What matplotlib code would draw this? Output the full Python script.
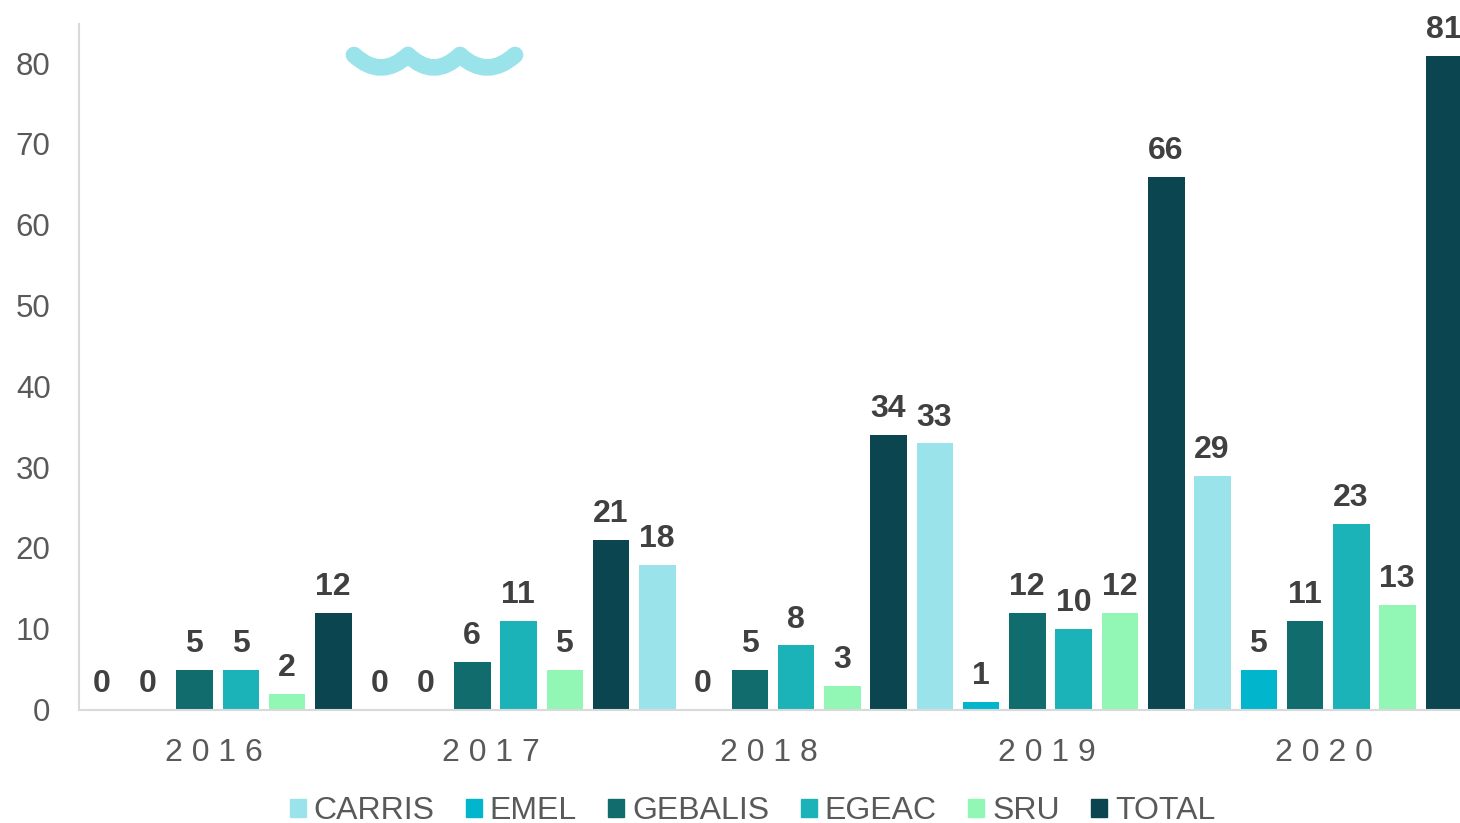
import matplotlib
matplotlib.use("Agg")
import matplotlib.pyplot as plt
import numpy as np
from matplotlib.patches import Rectangle, PathPatch
from matplotlib.path import Path
from matplotlib.transforms import ScaledTranslation

plt.rcParams['font.family'] = ['Liberation Sans', 'DejaVu Sans']

years = ["2 0 1 6", "2 0 1 7", "2 0 1 8", "2 0 1 9", "2 0 2 0"]
carris = [0, 0, 18, 33, 29]
emel = [0, 0, 0, 1, 5]
gebalis = [5, 6, 5, 12, 11]
egeac = [5, 11, 8, 10, 23]
sru = [2, 5, 3, 12, 13]
total = [12, 21, 34, 66, 81]

names = ["CARRIS", "EMEL", "GEBALIS", "EGEAC", "SRU", "TOTAL"]
colors = ["#9AE3EA", "#00B5CC", "#116C6E", "#1CB3B8", "#92F7B5", "#0B4650"]
series = [carris, emel, gebalis, egeac, sru, total]

W, H = 1460, 823
fig = plt.figure(figsize=(W / 100, H / 100), dpi=100)
ax = fig.add_axes([79 / W, (H - 710) / H, (W - 79) / W, 686 / H])

x = np.arange(len(years))
step = 1 / 6
bar_width = 0.1315

# Bars with value labels on top
for i, vals in enumerate(series):
    pos = x + (i - 2.5) * step
    ax.bar(pos, vals, width=bar_width, color=colors[i], label=names[i])
    for p, v in zip(pos, vals):
        ax.annotate(str(v), (p, v), xytext=(-0.3, 18.6), textcoords='offset points',
                    ha='center', va='center', fontsize=23, fontweight='bold',
                    color='#404040')

# Formatting
ax.set_xlim(-0.5, -0.5 + (W - 79) / 277.6)
ax.set_ylim(0, 686 / 8.08)
ax.set_xticks(x, years)
ax.set_yticks(np.arange(0, 81, 10))
ax.tick_params(axis='y', length=0, labelsize=22.5, labelcolor='#595959', pad=20.5)
ax.tick_params(axis='x', length=0, labelsize=23, labelcolor='#595959', pad=20)
for label in ax.get_xticklabels():
    label.set_transform(label.get_transform() + ScaledTranslation(-3 / 72, 0, fig.dpi_scale_trans))
for label in ax.get_yticklabels():
    label.set_transform(label.get_transform() + ScaledTranslation(0, 0.3 / 72, fig.dpi_scale_trans))
for side in ['top', 'right']:
    ax.spines[side].set_visible(False)
for side in ['left', 'bottom']:
    ax.spines[side].set_color('#D9D9D9')
    ax.spines[side].set_linewidth(1.5)

# Legend squares
handles = [Rectangle((0, 0), 1, 1, color=c) for c in colors]
fig.legend(handles, names, loc='center', bbox_to_anchor=(752.5 / W, (H - 811) / H),
           ncol=6, frameon=False, fontsize=23, labelcolor='#595959',
           handlelength=0.5, handleheight=0.5, handletextpad=0.25,
           columnspacing=0.98, borderpad=0, borderaxespad=0)

# Wavy decoration near the top
def px(a, b):
    return (a / W, (H - b) / H)

wave_verts = [px(354, 55), px(381, 80), px(408, 55), px(434, 80), px(460, 55),
              px(487, 80), px(515, 55)]
wave_codes = [Path.MOVETO] + [Path.CURVE3] * 6
fig.add_artist(PathPatch(Path(wave_verts, wave_codes), fill=False, edgecolor='#9AE3EA',
                         linewidth=12, capstyle='round', joinstyle='round',
                         transform=fig.transFigure))

fig.savefig("out.png", dpi=100)
